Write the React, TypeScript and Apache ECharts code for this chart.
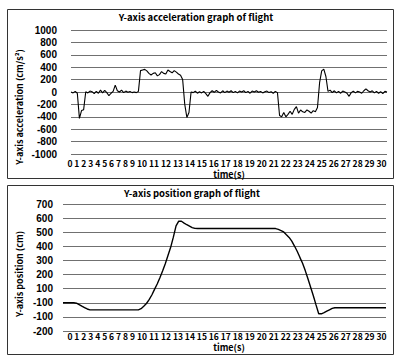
import React, { useEffect, useRef } from "react";
import * as echarts from "echarts";

// ---------- data ----------
// acceleration (cm/s^2), sampled every 0.2 s from t = 0 to 30
const accelStep = 0.2;
const accelValues = [
  0, -15, 10, -20, -425,
  -300, -285, 5, -15, 15,
  5, -25, 10, -20, 30,
  -15, 25, -10, -60, -20,
  10, 110, 20, 0, 30,
  -10, 15, -5, 10, -10,
  0, -10, 10, 345, 355,
  365, 340, 300, 275, 300,
  310, 260, 280, 330, 300,
  290, 355, 330, 310, 345,
  320, 290, 270, 200, -200,
  -410, -330, 0, -10, 15,
  -20, 5, -15, 10, -25,
  -70, -10, 20, -5, 25,
  0, -15, 20, -10, 15,
  -5, 20, -10, 10, -15,
  15, 0, 20, -10, 10,
  -20, 15, 0, 20, -5,
  10, -15, 5, 15, -10,
  5, -20, 10, -10, -380,
  -400, -330, -400, -360, -310,
  -360, -280, -235, -340, -290,
  -320, -330, -290, -310, -340,
  -300, -320, -250, 150, 340,
  370, 250, 10, 30, -10,
  20, -15, 10, -20, 15,
  0, -20, -70, -10, 15,
  -15, 10, 0, -20, 20,
  50, 20, 0, 20, -15,
  10, -20, 5, -25, 10,
  0,
];

// position (cm), sampled every 0.25 s from t = 0 to 30
const posStep = 0.25;
const posValues = [
  0, 0, 0, 0,
  0, -3, -13, -24,
  -34, -44, -50, -50,
  -50, -50, -50, -50,
  -50, -50, -50, -50,
  -50, -50, -50, -50,
  -50, -50, -50, -50,
  -50, -42, -25, -5,
  22, 55, 95, 133,
  177, 225, 277, 335,
  393, 465, 545, 578,
  578, 565, 553, 543,
  533, 527, 526, 526,
  526, 526, 526, 526,
  526, 526, 526, 526,
  526, 526, 526, 526,
  526, 526, 526, 526,
  526, 526, 526, 526,
  526, 526, 526, 526,
  526, 526, 526, 526,
  520, 512, 502, 482,
  463, 437, 402, 365,
  322, 280, 228, 170,
  110, 50, -15, -78,
  -78, -70, -60, -50,
  -40, -35, -35, -35,
  -35, -35, -35, -35,
  -35, -35, -35, -35,
  -35, -35, -35, -35,
  -35, -35, -35, -35,
  -35,
];

const timeTickLabels = [
  "0", "1", "2", "3", "4", "5", "6", "7", "8", "9", "10", "11", "12", "13", "14", "15",
  "16", "17", "18", "19", "20", "21", "22", "23", "24", "25", "26", "27", "28", "29", "30",
];
const accelTickLabels = ["-1000", "-800", "-600", "-400", "-200", "0", "200", "400", "600", "800", "1000"];
const posTickLabels = ["-200", "-100", "-100", "100", "200", "300", "400", "500", "600", "700"];

const titles = ["Y-axis acceleration graph of flight", "Y-axis position graph of flight"];
const yNames = ["Y-axis acceleration (cm/s\u00b2)", "Y-axis position (cm)"];
const xName = "time(s)";

const FONT = '"Noto Sans CJK KR", "Noto Sans", sans-serif';
const TICK_FONT = '"Liberation Sans", Arial, sans-serif';

function fitFontSize(text: string, width: number): number {
  const c = document.createElement("canvas").getContext("2d");
  if (!c) return 9;
  c.font = `bold 100px ${FONT}`;
  const w = c.measureText(text).width;
  return (100 * width) / w;
}

export default function App() {
  const ref = useRef<HTMLDivElement>(null);
  useEffect(() => {
    if (!ref.current) return;
    const chart = echarts.init(ref.current, undefined, { renderer: "svg" });
    const tickRow = timeTickLabels.join(" ");
    const tickSize = Math.min(fitFontSize(tickRow, 320), 9.5);
    const gridLine = { show: true, lineStyle: { color: "#707070", width: 1 } };
    const labelStyle = { color: "#000", fontWeight: "bold" as const, fontSize: 10, fontFamily: TICK_FONT };
    const textStyle = (size: number) => ({ fill: "#000", fontWeight: "bold", fontSize: size, fontFamily: FONT });

    chart.setOption({
      animation: false,
      backgroundColor: "#fff",
      grid: [
        { left: 71, right: 13, top: 30, height: 124 },
        { left: 63, right: 14, top: 204, height: 127 },
      ],
      xAxis: [
        { type: "value", gridIndex: 0, min: 0, max: 30, show: false },
        { type: "value", gridIndex: 1, min: 0, max: 30, show: false },
      ],
      yAxis: [
        {
          type: "value", gridIndex: 0, min: -1000, max: 1000, interval: 200,
          axisLine: { show: false }, axisTick: { show: false }, splitLine: gridLine,
          axisLabel: { ...labelStyle, margin: 14, formatter: (v: number) => accelTickLabels[Math.round((v + 1000) / 200)] },
        },
        {
          type: "value", gridIndex: 1, min: -200, max: 700, interval: 100,
          axisLine: { show: false }, axisTick: { show: false }, splitLine: gridLine,
          axisLabel: { ...labelStyle, margin: 10, formatter: (v: number) => posTickLabels[Math.round((v + 200) / 100)] },
        },
      ],
      series: [
        {
          type: "line", xAxisIndex: 0, yAxisIndex: 0, showSymbol: false,
          data: accelValues.map((v, i) => [i * accelStep, v]),
          lineStyle: { color: "#000", width: 1.1 },
        },
        {
          type: "line", xAxisIndex: 1, yAxisIndex: 1, showSymbol: false,
          data: posValues.map((v, i) => [i * posStep, v]),
          lineStyle: { color: "#000", width: 1.4 },
        },
      ],
      graphic: [
        { type: "rect", shape: { x: 7.5, y: 9.5, width: 386, height: 169 }, style: { fill: "none", stroke: "#333", lineWidth: 1 } },
        { type: "rect", shape: { x: 7.5, y: 185.5, width: 386, height: 169 }, style: { fill: "none", stroke: "#333", lineWidth: 1 } },
        { type: "text", x: 196, y: 17, style: { ...textStyle(9.5), text: titles[0], align: "center", verticalAlign: "middle" } },
        { type: "text", x: 192, y: 193, style: { ...textStyle(9.5), text: titles[1], align: "center", verticalAlign: "middle" } },
        { type: "text", x: 19, y: 107, rotation: Math.PI / 2, style: { ...textStyle(9), text: yNames[0], align: "center", verticalAlign: "middle" } },
        { type: "text", x: 19, y: 274, rotation: Math.PI / 2, style: { ...textStyle(9), text: yNames[1], align: "center", verticalAlign: "middle" } },
        { type: "text", x: 227, y: 163, style: { ...textStyle(tickSize), text: tickRow, align: "center", verticalAlign: "middle" } },
        { type: "text", x: 227, y: 336, style: { ...textStyle(tickSize), text: tickRow, align: "center", verticalAlign: "middle" } },
        { type: "text", x: 229, y: 174.5, style: { ...textStyle(9), text: xName, align: "center", verticalAlign: "middle" } },
        { type: "text", x: 229, y: 347.5, style: { ...textStyle(9), text: xName, align: "center", verticalAlign: "middle" } },
      ],
    });
    return () => chart.dispose();
  }, []);
  return <div ref={ref} style={{ position: "absolute", left: 0, top: 0, width: 400, height: 361 }} />;
}
